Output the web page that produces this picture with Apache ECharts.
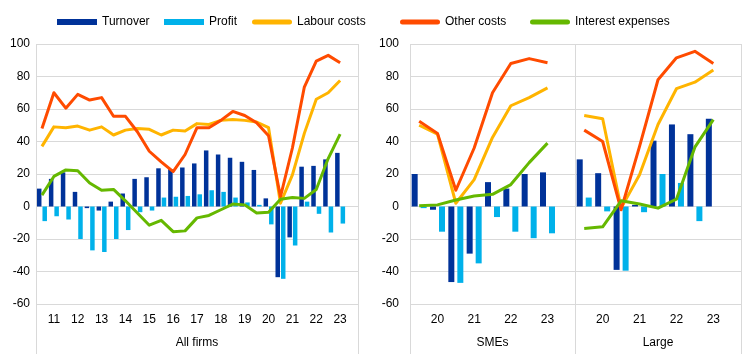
<!DOCTYPE html>
<html>
<head>
<meta charset="utf-8">
<title>Turnover, profit and costs</title>
<script src="https://cdn.jsdelivr.net/npm/echarts@6/dist/echarts.min.js"></script>
<style>
    html, body { margin: 0; padding: 0; background: #fff; }
    #main { width: 755px; height: 354px; }
</style>
</head>
<body>
<div id="main"></div>
<script>
// half-year rounds, the year is printed under every H1 slot; last slot left empty
var allPeriods = ['10H2','11H1','11H2','12H1','12H2','13H1','13H2','14H1','14H2','15H1','15H2','16H1','16H2',
    '17H1','17H2','18H1','18H2','19H1','19H2','20H1','20H2','21H1','21H2','22H1','22H2','23H1',''];
var sizePeriods = ['19H2','20H1','20H2','21H1','21H2','22H1','22H2','23H1',''];

// All firms
var allTurnover = [11, 17, 21, 9, -1, -2.5, 3, 8, 17, 18, 23.5, 23, 24, 26.5, 34.5, 32, 30, 27.5, 22.5, 5, -43.5, -19, 24.5, 25, 29, 33];
var allProfit   = [-9, -6, -8, -20, -27, -28, -20, -14.5, -3.5, -2.5, 5.5, 6, 6.5, 7.5, 10, 9, 5.5, 2.5, 1, -11, -44.5, -24, 3, -4.5, -16, -10.5];
var allLabour   = [37, 49, 48.5, 49.5, 47, 49, 44, 47, 48, 47.5, 44, 47, 46.5, 51, 50.5, 53, 53.5, 53, 52, 48.5, 2, 19.5, 45, 66, 70, 77.5];
var allOther    = [48, 70, 60.5, 69, 65.5, 67, 55.5, 55.5, 46, 34, 27.5, 21.5, 32, 48.5, 48.5, 53, 58.5, 56, 51.5, 43.5, 6, 36, 73.5, 89.5, 93, 88.5];
var allInterest = [7, 18.5, 22.5, 22, 14.5, 10, 10.5, 3.5, -4, -11.5, -8.5, -15.5, -15, -7, -5.5, -2, 1.5, 1, -4, -3.5, 4.5, 5.5, 5, 10.5, 29.5, 44.5];

// SMEs
var smeTurnover = [20, -2, -46.5, -29, 15, 11, 20, 21];
var smeProfit   = [-1, -15.5, -47, -35, -6.5, -15.5, -19.5, -16.5];
var smeLabour   = [50, 44.5, 2, 16.5, 42.5, 62, 67, 73];
var smeOther    = [52.5, 45, 10, 36, 70, 88, 91, 88.5];
var smeInterest = [0.5, 1, 4, 6.5, 7.5, 13.5, 27, 39];

// Large firms
var lrgTurnover = [29, 20.5, -39, 1, 40.5, 50.5, 44.5, 54];
var lrgProfit   = [5.5, -3, -39.5, -3.5, 20, 14.5, -9, 0];
var lrgLabour   = [56, 54, -1, 19.5, 50.5, 72.5, 76.5, 84];
var lrgOther    = [47, 40, -2, 37, 78, 91.5, 95.5, 88];
var lrgInterest = [-13.5, -12.5, 3.5, 1.5, -1, 4.5, 36.5, 53.5];

var groupNames = ['All firms', 'SMEs', 'Large'];
var yTicks = { min: -60, max: 100, step: 20 };

var colors = {
    'Turnover': '#003299',
    'Profit': '#00b1ea',
    'Labour costs': '#ffb400',
    'Other costs': '#ff4b00',
    'Interest expenses': '#65b800'
};

var font = "'Liberation Sans', Arial, sans-serif";
var gridColor = '#d9d9d9';
var pill = 'path://M2.5,0 L37.5,0 A2.5,2.5 0 0 1 37.5,5 L2.5,5 A2.5,2.5 0 0 1 2.5,0 Z';

var container = document.getElementById('main');
var myChart = echarts.init(container, null, { renderer: 'canvas' });

var grids = [
    { left: 36, top: 44, width: 322, height: 260 },
    { left: 410, top: 44, width: 165, height: 260 },
    { left: 575, top: 44, width: 166, height: 260 }
];
grids.forEach(function (g) { g.outerBoundsMode = 'none'; g.containLabel = false; });

var xAxes = [], yAxes = [];
var periodsFor = [allPeriods, sizePeriods, sizePeriods];
grids.forEach(function (g, i) {
    xAxes.push({
        type: 'category', gridIndex: i, position: 'bottom',
        data: periodsFor[i],
        axisLine: { show: false },
        axisTick: { show: false },
        splitLine: { show: false },
        axisLabel: {
            interval: function (idx) { return idx % 2 === 1; },
            formatter: function (v) { return v.slice(0, 2); },
            margin: 10, color: '#000', fontSize: 12, fontFamily: font
        }
    });
    xAxes.push({
        type: 'category', gridIndex: i, position: 'bottom',
        data: [groupNames[i]],
        axisLine: { show: false },
        axisTick: { show: true, length: 50, lineStyle: { color: gridColor, width: 1 } },
        splitLine: { show: true, lineStyle: { color: gridColor, width: 1 } },
        axisLabel: { margin: 33, color: '#000', fontSize: 12, fontFamily: font }
    });
    yAxes.push({
        type: 'value', gridIndex: i,
        min: yTicks.min, max: yTicks.max, interval: yTicks.step,
        axisLine: { show: false },
        axisTick: { show: false },
        splitLine: { lineStyle: { color: gridColor, width: 1 } },
        axisLabel: {
            show: i < 2, margin: i === 0 ? 6 : 11,
            color: '#000', fontSize: 12, fontFamily: font
        }
    });
});

var panels = [
    [allTurnover, allProfit, allLabour, allOther, allInterest],
    [smeTurnover, smeProfit, smeLabour, smeOther, smeInterest],
    [lrgTurnover, lrgProfit, lrgLabour, lrgOther, lrgInterest]
];
var names = ['Turnover', 'Profit', 'Labour costs', 'Other costs', 'Interest expenses'];

var series = [];
panels.forEach(function (p, i) {
    var bw = i === 0 ? 4.5 : 6;
    var gap = i === 0 ? '22%' : '50%';
    names.forEach(function (n, k) {
        var s = {
            name: n,
            xAxisIndex: i * 2, yAxisIndex: i,
            data: p[k],
            itemStyle: { color: colors[n] }
        };
        if (k < 2) {
            s.type = 'bar';
            s.barWidth = bw;
            s.barGap = gap;
        } else {
            s.type = 'line';
            s.symbol = 'none';
            s.showSymbol = false;
            s.lineStyle = { color: colors[n], width: 3, join: 'round' };
            s.z = 3;
        }
        series.push(s);
    });
});

function legendAt(name, left, icon, h) {
    return {
        left: left, top: 16, padding: 0,
        selectedMode: false,
        itemWidth: 40, itemHeight: h,
        data: [{ name: name, icon: icon }],
        textStyle: { color: '#000', fontSize: 12, fontFamily: font }
    };
}

var option = {
    animation: false,
    backgroundColor: '#fff',
    textStyle: { fontFamily: font },
    legend: [
        legendAt('Turnover', 57, 'rect', 6),
        legendAt('Profit', 164, 'rect', 6),
        legendAt('Labour costs', 252, pill, 5),
        legendAt('Other costs', 400, pill, 5),
        legendAt('Interest expenses', 530, pill, 5)
    ],
    grid: grids,
    xAxis: xAxes,
    yAxis: yAxes,
    series: series
};

myChart.setOption(option);
</script>
</body>
</html>
